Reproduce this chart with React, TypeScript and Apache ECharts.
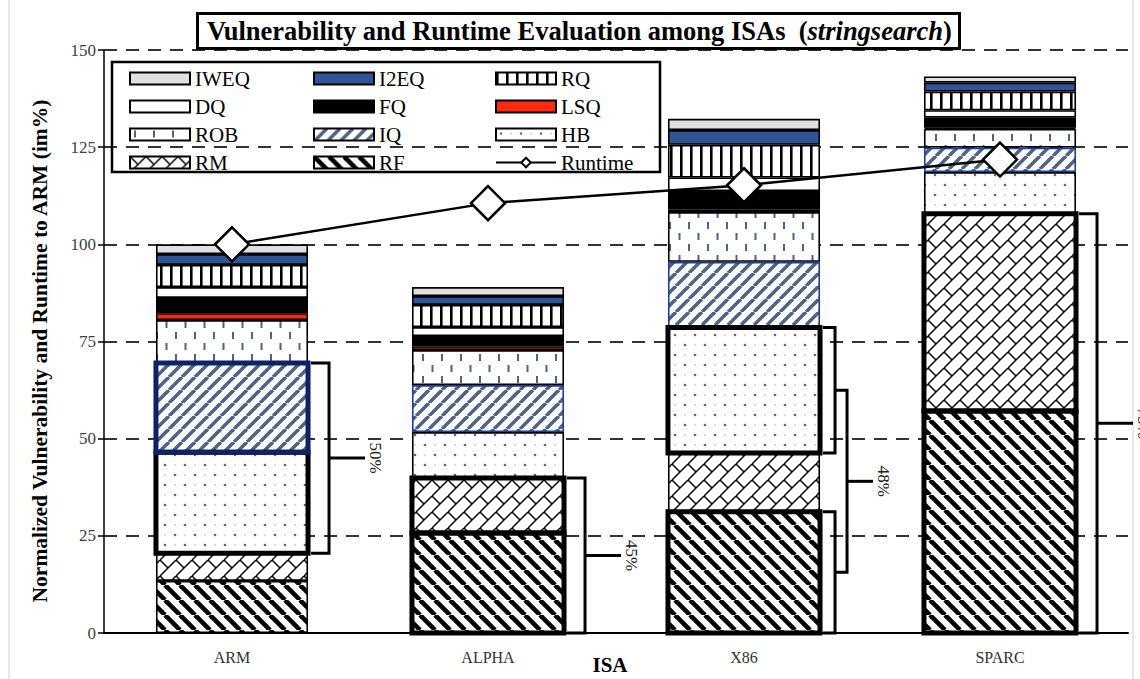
import React, { useEffect, useRef } from 'react';
import * as echarts from 'echarts';

// ---------- data ----------
const categories = ['ARM', 'ALPHA', 'X86', 'SPARC'];
const RF = [13.4, 25.7, 31.2, 57.1];
const RM = [7.1, 14.2, 15.1, 50.8];
const HB = [26.0, 11.8, 32.3, 10.7];
const IQ = [23.0, 12.1, 16.9, 6.3];
const ROB = [11.0, 9.0, 12.8, 4.8];
const LSQ = [1.8, 1.0, 0.7, 0.3];
const FQ = [3.9, 2.6, 4.7, 2.6];
const DQ = [2.8, 2.3, 3.5, 1.9];
const RQ = [5.7, 5.7, 8.4, 4.8];
const I2EQ = [2.8, 2.3, 3.8, 2.3];
const IWEQ = [2.5, 2.3, 2.9, 1.6];
const runtime = [100, 110.6, 115.2, 121.8];

const yMin = 0;
const yMax = 150;
const yStep = 25;

const bracketLabels = ['50%', '45%', '48%', '75%'];
const bracketParts = [[['HB', 'IQ']], [['RF', 'RM']], [['RF'], ['HB']], [['RF', 'RM']]];
const highlightParts = [['HB', 'IQ'], ['RF', 'RM'], ['RF', 'HB'], ['RF', 'RM']];

const stackNames = ['RF', 'RM', 'HB', 'IQ', 'ROB', 'LSQ', 'FQ', 'DQ', 'RQ', 'I2EQ', 'IWEQ'];
const stackValues = [RF, RM, HB, IQ, ROB, LSQ, FQ, DQ, RQ, I2EQ, IWEQ];

const SERIF = 'Liberation Serif';
const BAR_FRAC = 0.594;

function tile(w: number, h: number, draw: (ctx: CanvasRenderingContext2D) => void) {
  const c = document.createElement('canvas');
  c.width = w;
  c.height = h;
  const ctx = c.getContext('2d')!;
  ctx.fillStyle = '#fff';
  ctx.fillRect(0, 0, w, h);
  draw(ctx);
  return { image: c, repeat: 'repeat', imageWidth: w, imageHeight: h } as any;
}

function makePatterns() {
  const rf = tile(15, 15, (ctx) => {
    ctx.strokeStyle = '#000';
    ctx.lineWidth = 4.6;
    for (let k = -1; k <= 1; k++) {
      ctx.beginPath();
      ctx.moveTo(k * 15, 0);
      ctx.lineTo(k * 15 + 15, 15);
      ctx.stroke();
    }
  });
  const iq = tile(13, 13, (ctx) => {
    ctx.strokeStyle = '#4f6483';
    ctx.lineWidth = 3.6;
    for (let k = -1; k <= 1; k++) {
      ctx.beginPath();
      ctx.moveTo(k * 13, 13);
      ctx.lineTo(k * 13 + 13, 0);
      ctx.stroke();
    }
  });
  const rm = tile(16, 16, (ctx) => {
    ctx.strokeStyle = '#000';
    ctx.lineWidth = 1.5;
    for (let k = -1; k <= 1; k++) {
      ctx.beginPath();
      ctx.moveTo(k * 16, 16);
      ctx.lineTo(k * 16 + 16, 0);
      ctx.stroke();
    }
    for (let dx = -16; dx <= 16; dx += 16) {
      for (let dy = -16; dy <= 16; dy += 16) {
        ctx.beginPath();
        ctx.moveTo(dx, dy);
        ctx.lineTo(dx + 8, dy + 8);
        ctx.stroke();
      }
    }
  });
  const hb = tile(20, 20, (ctx) => {
    ctx.fillStyle = '#666';
    [[5, 5], [15, 15]].forEach(([x, y]) => {
      ctx.beginPath();
      ctx.arc(x, y, 1.3, 0, Math.PI * 2);
      ctx.fill();
    });
    ctx.fillStyle = '#aaa';
    [[15, 5], [5, 15]].forEach(([x, y]) => {
      ctx.beginPath();
      ctx.arc(x, y, 0.8, 0, Math.PI * 2);
      ctx.fill();
    });
  });
  const rob = tile(19, 22, (ctx) => {
    ctx.strokeStyle = '#4f6483';
    ctx.lineWidth = 2;
    ctx.beginPath();
    ctx.moveTo(5, 2);
    ctx.lineTo(5, 9);
    ctx.moveTo(14.5, 13);
    ctx.lineTo(14.5, 20);
    ctx.stroke();
  });
  const rq = tile(10, 10, (ctx) => {
    ctx.fillStyle = '#000';
    ctx.fillRect(0, 0, 2.6, 10);
  });
  return { rf, iq, rm, hb, rob, rq };
}

function segRange(i: number, names: string[]) {
  const idx = names.map((n) => stackNames.indexOf(n));
  const lo = Math.min(...idx);
  const hi = Math.max(...idx);
  let b = 0;
  for (let k = 0; k < lo; k++) b += stackValues[k][i];
  let t = b;
  for (let k = lo; k <= hi; k++) t += stackValues[k][i];
  return [b, t];
}

export default function App() {
  const ref = useRef<HTMLDivElement>(null);
  useEffect(() => {
    if (!ref.current) return;
    const chart = echarts.init(ref.current, undefined, { renderer: 'svg' });
    const P = makePatterns();
    const fills: Record<string, any> = {
      RF: P.rf,
      RM: P.rm,
      HB: P.hb,
      IQ: P.iq,
      ROB: P.rob,
      LSQ: '#ff2a10',
      FQ: '#000000',
      DQ: '#ffffff',
      RQ: P.rq,
      I2EQ: '#2f5597',
      IWEQ: '#e0e0e0',
    };

    const barSeries = stackNames.map((name, k) => ({
      name,
      type: 'bar',
      stack: 'v',
      barWidth: BAR_FRAC * 100 + '%',
      data: stackValues[k],
      itemStyle: {
        color: fills[name],
        borderColor: name === 'IQ' ? '#1f3f8f' : '#000',
        borderWidth: 1.6,
      },
      emphasis: { disabled: true },
    }));

    const customSeries = {
      type: 'custom',
      z: 4,
      clip: false,
      silent: true,
      data: categories.map((_, i) => [i, 0]),
      encode: { x: 0, y: 1 },
      renderItem: (params: any, api: any) => {
        const i = params.dataIndex;
        const band = api.size([1, 0])[0];
        const half = (band * BAR_FRAC) / 2;
        const cx = api.coord([i, 0])[0];
        const left = cx - half;
        const right = cx + half;
        const yv = (v: number) => api.coord([i, v])[1];
        const children: any[] = [];
        highlightParts[i].forEach((name) => {
          const [b, t] = segRange(i, [name]);
          const y1 = yv(t);
          const y2 = yv(b);
          children.push({
            type: 'rect',
            shape: { x: left, y: y1, width: right - left, height: y2 - y1 },
            style: { fill: 'none', stroke: name === 'IQ' ? '#0e2266' : '#000', lineWidth: 5 },
          });
        });
        const parts = bracketParts[i];
        const lineStyle = { stroke: '#000', lineWidth: 3, fill: 'none' };
        let ym: number;
        let xt: number;
        if (parts.length === 1) {
          const [b, t] = segRange(i, parts[0]);
          const yt = yv(t);
          const yb = yv(b);
          const x0 = right + 3;
          const x1 = right + 21;
          children.push({ type: 'polyline', shape: { points: [[x0, yt], [x1, yt], [x1, yb], [x0, yb]] }, style: lineStyle });
          ym = (yt + yb) / 2;
          children.push({ type: 'line', shape: { x1: x1, y1: ym, x2: x1 + 36, y2: ym }, style: lineStyle });
          xt = x1 + 36;
        } else {
          const mids: number[] = [];
          const x1 = right + 15;
          parts.forEach((p) => {
            const [b, t] = segRange(i, p);
            const yt = yv(t);
            const yb = yv(b);
            children.push({ type: 'polyline', shape: { points: [[right + 3, yt], [x1, yt], [x1, yb], [right + 3, yb]] }, style: lineStyle });
            mids.push((yt + yb) / 2);
          });
          const xc = right + 27;
          children.push({ type: 'polyline', shape: { points: [[x1, mids[0]], [xc, mids[0]], [xc, mids[1]], [x1, mids[1]]] }, style: lineStyle });
          ym = (mids[0] + mids[1]) / 2;
          children.push({ type: 'line', shape: { x1: xc, y1: ym, x2: xc + 26, y2: ym }, style: lineStyle });
          xt = xc + 26;
        }
        children.push({
          type: 'text',
          x: xt + 10,
          y: ym,
          rotation: -Math.PI / 2,
          style: {
            text: bracketLabels[i],
            x: 0,
            y: 0,
            align: 'center',
            verticalAlign: 'middle',
            fontFamily: SERIF,
            fontSize: 17,
            fill: '#222',
          },
        });
        return { type: 'group', children };
      },
    };

    const lineSeries = {
      name: 'Runtime',
      type: 'line',
      z: 6,
      data: runtime,
      symbol: 'diamond',
      symbolSize: 34,
      itemStyle: { color: '#fff', borderColor: '#000', borderWidth: 2.5 },
      lineStyle: { color: '#000', width: 2.5 },
      emphasis: { disabled: true },
    };

    const legendBase = {
      orient: 'vertical',
      top: 63,
      itemWidth: 60,
      itemHeight: 12,
      itemGap: 7,
      selectedMode: false,
      textStyle: { fontFamily: SERIF, fontSize: 21, color: '#000', lineHeight: 21 },
      itemStyle: { borderColor: '#000', borderWidth: 2 },
    };
    const legendCols = [
      ['IWEQ', 'DQ', 'ROB', 'RM'],
      ['I2EQ', 'FQ', 'IQ', 'RF'],
      ['RQ', 'LSQ', 'HB', 'Runtime'],
    ];
    const legendLefts = [124, 308, 490];

    const option: any = {
      animation: false,
      backgroundColor: '#fff',
      textStyle: { fontFamily: SERIF },
      title: {
        text: '{a|Vulnerability and Runtime Evaluation among ISAs  (}{b|stringsearch}{a|)}',
        left: 197,
        top: 13,
        padding: [4, 8, 5, 10],
        borderColor: '#000',
        borderWidth: 3,
        backgroundColor: '#fff',
        textStyle: {
          rich: {
            a: { fontFamily: SERIF, fontWeight: 'bold', fontSize: 26.5, color: '#000' },
            b: { fontFamily: SERIF, fontWeight: 'bold', fontStyle: 'italic', fontSize: 26.5, color: '#000' },
          },
        },
      },
      legend: legendCols.map((col, c) => ({
        ...legendBase,
        left: legendLefts[c],
        data: col.map((n) => (n === 'Runtime' ? { name: n } : { name: n, icon: 'rect' })),
      })),
      grid: { left: 104, right: 12, top: 50, bottom: 46 },
      xAxis: {
        type: 'category',
        data: categories,
        axisLine: { lineStyle: { color: '#000', width: 2 } },
        axisTick: { show: false },
        axisLabel: { fontFamily: SERIF, fontSize: 16, color: '#333', margin: 16 },
      },
      yAxis: {
        type: 'value',
        min: yMin,
        max: yMax,
        interval: yStep,
        axisLine: { show: true, lineStyle: { color: '#000', width: 1.5 } },
        axisTick: { show: true, length: 6, lineStyle: { color: '#000', width: 1.5 } },
        axisLabel: { fontFamily: SERIF, fontSize: 17, color: '#404040', margin: 8 },
        splitLine: { lineStyle: { type: [13, 9], color: '#333', width: 2 } },
      },
      graphic: [
        { type: 'line', shape: { x1: 9, y1: 0, x2: 9, y2: 679 }, style: { stroke: '#d0d0d0', lineWidth: 1 } },
        { type: 'line', shape: { x1: 1133, y1: 0, x2: 1133, y2: 679 }, style: { stroke: '#d0d0d0', lineWidth: 1 } },
        {
          type: 'rect',
          shape: { x: 112, y: 62, width: 548, height: 110 },
          style: { fill: 'none', stroke: '#000', lineWidth: 2.5 },
          z: 10,
        },
        {
          type: 'text',
          x: 40,
          y: 351,
          rotation: Math.PI / 2,
          style: {
            text: 'Normalized Vulnerability and Runtime to ARM (im%)',
            align: 'center',
            verticalAlign: 'middle',
            fontFamily: SERIF,
            fontWeight: 'bold',
            fontSize: 21.5,
            fill: '#000',
          },
        },
        {
          type: 'text',
          x: 610,
          y: 665,
          style: {
            text: 'ISA',
            align: 'center',
            verticalAlign: 'middle',
            fontFamily: SERIF,
            fontWeight: 'bold',
            fontSize: 21,
            fill: '#000',
          },
        },
      ],
      series: [...barSeries, customSeries, lineSeries],
    };
    chart.setOption(option);
    return () => chart.dispose();
  }, []);
  return <div ref={ref} style={{ position: 'absolute', left: 0, top: 0, width: 1140, height: 679 }} />;
}
